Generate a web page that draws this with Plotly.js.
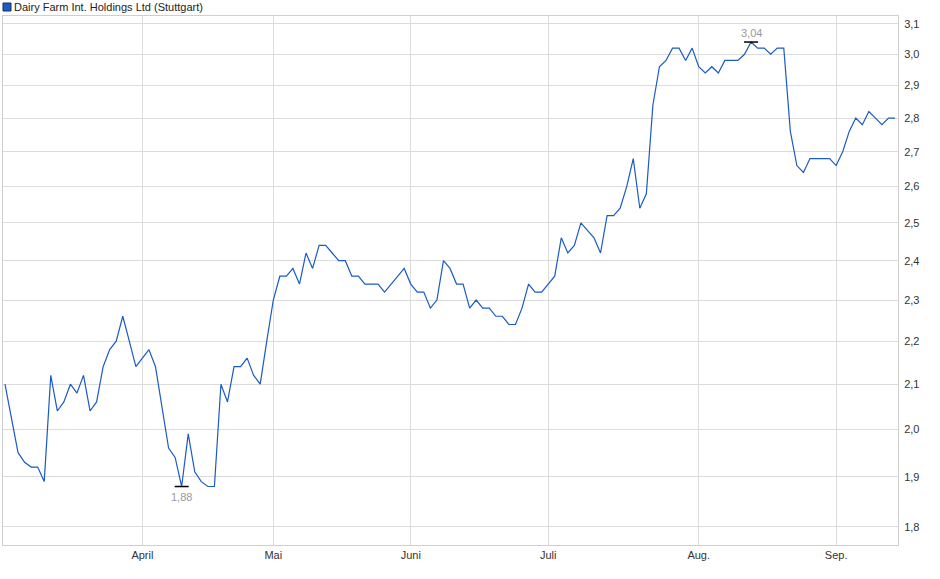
<!DOCTYPE html>
<html>
<head>
<meta charset="utf-8">
<script src="https://cdn.plot.ly/plotly-3.0.1.min.js"></script>
<style>
  html, body { margin: 0; padding: 0; background: #fff; }
  #chart { width: 940px; height: 579px; }
</style>
</head>
<body>
<div id="chart"></div>
<script>
// closing prices, one per trading day (Stuttgart), 03.03.2025 - 12.09.2025
const prices = [
  2.10, 2.02, 1.95, 1.93, 1.92, 1.92, 1.89, 2.12, 2.04, 2.06,
  2.10, 2.08, 2.12, 2.04, 2.06, 2.14, 2.18, 2.20, 2.26, 2.20,
  2.14, 2.16, 2.18, 2.14, 2.05, 1.96, 1.94, 1.88, 1.99, 1.91,
  1.89, 1.88, 1.88, 2.10, 2.06, 2.14, 2.14, 2.16, 2.12, 2.10,
  2.20, 2.30, 2.36, 2.36, 2.38, 2.34, 2.42, 2.38, 2.44, 2.44,
  2.42, 2.40, 2.40, 2.36, 2.36, 2.34, 2.34, 2.34, 2.32, 2.34,
  2.36, 2.38, 2.34, 2.32, 2.32, 2.28, 2.30, 2.40, 2.38, 2.34,
  2.34, 2.28, 2.30, 2.28, 2.28, 2.26, 2.26, 2.24, 2.24, 2.28,
  2.34, 2.32, 2.32, 2.34, 2.36, 2.46, 2.42, 2.44, 2.50, 2.48,
  2.46, 2.42, 2.52, 2.52, 2.54, 2.60, 2.68, 2.54, 2.58, 2.84,
  2.96, 2.98, 3.02, 3.02, 2.98, 3.02, 2.96, 2.94, 2.96, 2.94,
  2.98, 2.98, 2.98, 3.00, 3.04, 3.02, 3.02, 3.00, 3.02, 3.02,
  2.76, 2.66, 2.64, 2.68, 2.68, 2.68, 2.68, 2.66, 2.70, 2.76,
  2.80, 2.78, 2.82, 2.80, 2.78, 2.80, 2.80
];

const firstDay = '2025-03-03';
const holidays = ['2025-04-18', '2025-04-21', '2025-05-01'];

const monthTicks = ['2025-04-01', '2025-05-02', '2025-06-02', '2025-07-01', '2025-08-01', '2025-09-01'];
const monthLabels = ['April', 'Mai', 'Juni', 'Juli', 'Aug.', 'Sep.'];

const yTicks = [1.8, 1.9, 2.0, 2.1, 2.2, 2.3, 2.4, 2.5, 2.6, 2.7, 2.8, 2.9, 3.0, 3.1];

const seriesName = 'Dairy Farm Int. Holdings Ltd (Stuttgart)';

// trading calendar
const dates = [];
let d = new Date(firstDay + 'T12:00:00Z');
while (dates.length < prices.length) {
  const s = d.toISOString().slice(0, 10);
  const wd = d.getUTCDay();
  if (wd !== 0 && wd !== 6 && holidays.indexOf(s) < 0) dates.push(s);
  d.setUTCDate(d.getUTCDate() + 1);
}

const lo = Math.min(...prices), hi = Math.max(...prices);
const iLo = prices.indexOf(lo), iHi = prices.indexOf(hi);
const fmt = v => v.toFixed(2).replace('.', ',');

const font = 'Liberation Sans, Arial, sans-serif';

const line = {
  x: dates,
  y: prices,
  type: 'scatter',
  mode: 'lines',
  line: { color: '#1a5bc4', width: 1.2 },
  hoverinfo: 'x+y',
  showlegend: false
};

// small black bars at the low and the high
const extremes = {
  x: [dates[iLo], dates[iHi]],
  y: [lo, hi],
  type: 'scatter',
  mode: 'markers',
  marker: { symbol: 'line-ew-open', size: 10, color: '#000', line: { color: '#000', width: 1.5 } },
  hoverinfo: 'skip',
  showlegend: false
};

const layout = {
  width: 940,
  height: 579,
  margin: { l: 3, r: 42, t: 16, b: 34 },
  paper_bgcolor: '#fff',
  plot_bgcolor: '#fff',
  separators: ',.',
  font: { family: font, size: 11, color: '#333' },
  showlegend: false,
  xaxis: {
    type: 'category',
    range: [-0.3, prices.length - 1 + 0.45],
    tickmode: 'array',
    tickvals: monthTicks,
    ticktext: monthLabels,
    showgrid: true,
    gridcolor: '#dcdcdc',
    gridwidth: 1,
    showline: true,
    linecolor: '#cfcfcf',
    linewidth: 1,
    mirror: true,
    ticks: '',
    zeroline: false,
    tickfont: { family: font, size: 11, color: '#333' }
  },
  yaxis: {
    type: 'log',
    side: 'right',
    range: [0.2467, 0.4951],
    tickmode: 'array',
    tickvals: yTicks,
    tickformat: '.1f',
    showgrid: true,
    gridcolor: '#dcdcdc',
    gridwidth: 1,
    showline: true,
    linecolor: '#cfcfcf',
    linewidth: 1,
    mirror: true,
    ticks: '',
    ticklabelstandoff: 3,
    zeroline: false,
    tickfont: { family: font, size: 11, color: '#333' }
  },
  shapes: [
    {
      type: 'rect', xref: 'paper', yref: 'paper', xsizemode: 'pixel', ysizemode: 'pixel',
      xanchor: 0, yanchor: 1,
      x0: 0, x1: 8, y0: 5, y1: 13,
      fillcolor: '#1a5bc4', line: { color: '#1c2f5a', width: 1 }
    }
  ],
  annotations: [
    {
      xref: 'paper', yref: 'paper', x: 0, y: 1, xanchor: 'left', yanchor: 'bottom',
      xshift: 9, yshift: 1,
      text: seriesName, showarrow: false,
      font: { family: font, size: 11, color: '#222' }
    },
    {
      x: dates[iLo], y: Math.log10(lo), yshift: -10,
      text: fmt(lo), showarrow: false,
      font: { family: font, size: 11, color: '#999' }
    },
    {
      x: dates[iHi], y: Math.log10(hi), yshift: 9,
      text: fmt(hi), showarrow: false,
      font: { family: font, size: 11, color: '#999' }
    }
  ]
};

Plotly.newPlot('chart', [line, extremes], layout, { displayModeBar: false, staticPlot: true });
</script>
</body>
</html>
